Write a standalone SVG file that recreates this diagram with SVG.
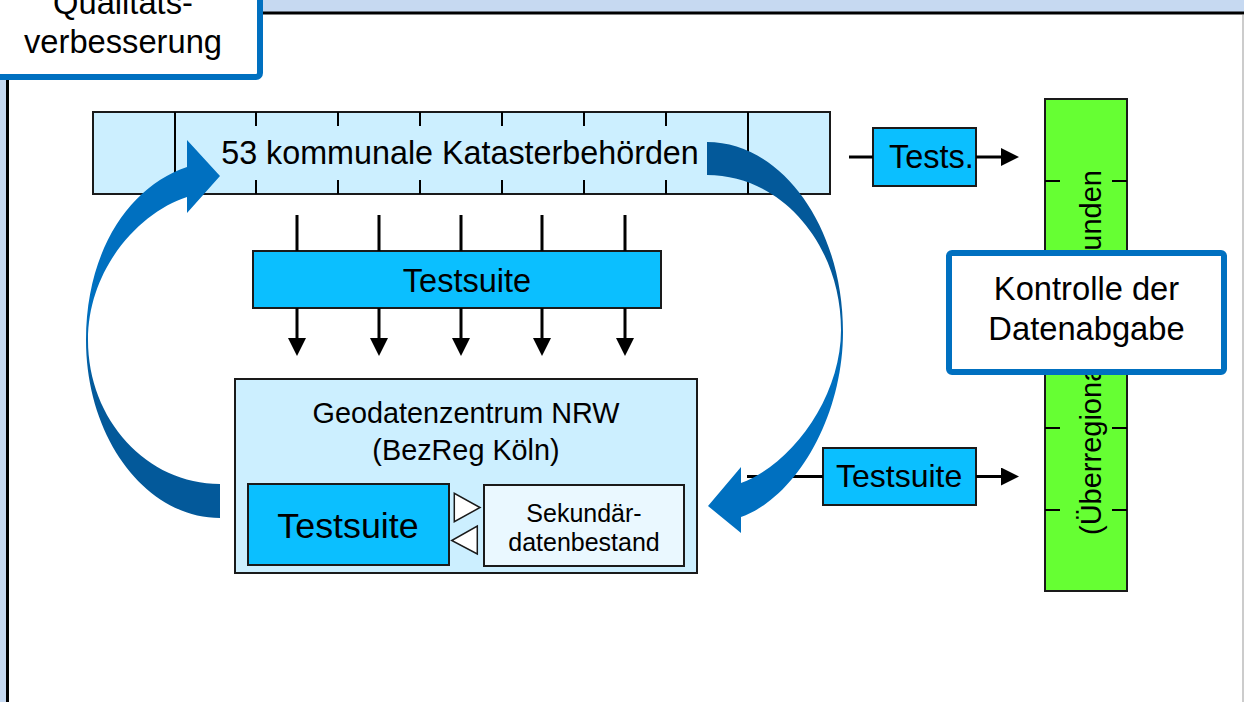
<svg xmlns="http://www.w3.org/2000/svg" width="1244" height="702" viewBox="0 0 1244 702">
<style>
text{font-family:"Liberation Sans",Arial,sans-serif;fill:#000}
.box{stroke:#1a1a1a;stroke-width:2}
.light{fill:#CCEFFF}
.cyan{fill:#0BBFFF}
.ln{stroke:#000;stroke-width:3;fill:none}
.tk{stroke:#000;stroke-width:2}
.callout{fill:#fff;stroke:#0070C0;stroke-width:6}
</style>
<defs>
<marker id="ah" markerUnits="userSpaceOnUse" markerWidth="18" markerHeight="18" viewBox="0 0 18 18" refX="1" refY="9" orient="auto">
<path d="M0,0 L18,9 L0,18 Z" fill="#000"/>
</marker>
<linearGradient id="gl" x1="0" y1="0" x2="0" y2="1">
<stop offset="0" stop-color="#0070C0"/>
<stop offset="0.45" stop-color="#0070C0"/>
<stop offset="0.65" stop-color="#03599A"/>
<stop offset="1" stop-color="#03599A"/>
</linearGradient>
<linearGradient id="gr" x1="0" y1="0" x2="0" y2="1">
<stop offset="0" stop-color="#03599A"/>
<stop offset="0.4" stop-color="#03599A"/>
<stop offset="0.6" stop-color="#0070C0"/>
<stop offset="1" stop-color="#0070C0"/>
</linearGradient>
</defs>

<g id="frame">
<rect x="0" y="0" width="1244" height="702" fill="#fff"/>
<rect x="0" y="0" width="1244" height="12" fill="#C6D9F1"/>
<rect x="0" y="0" width="6" height="702" fill="#C6D9F1"/>
<line x1="262" y1="13" x2="1244" y2="13" stroke="#000" stroke-width="3"/>
<line x1="7.5" y1="78" x2="7.5" y2="702" stroke="#000" stroke-width="3"/>
<line x1="1243" y1="15" x2="1243" y2="702" stroke="#999" stroke-width="1"/>
</g>

<g id="qualitaet">
<rect x="-10" y="-10" width="270" height="87" rx="4" class="callout"/>
<text x="123" y="14" font-size="32.7" text-anchor="middle">Qualitäts-</text>
<text x="123" y="53" font-size="32.7" text-anchor="middle">verbesserung</text>
</g>

<g id="kataster">
<rect x="93" y="112" width="737" height="82" class="box light"/>
<line x1="175" y1="112" x2="175" y2="194" class="tk"/>
<line x1="748" y1="112" x2="748" y2="194" class="tk"/>
<path class="tk" d="M256,112v14M338,112v14M420,112v14M502,112v14M584,112v14M666,112v14M256,194v-14M338,194v-14M420,194v-14M502,194v-14M584,194v-14M666,194v-14"/>
<text x="460" y="164" font-size="32.3" text-anchor="middle">53 kommunale Katasterbehörden</text>
</g>

<g id="testsuite-top">
<rect x="253" y="251" width="408" height="57" class="box cyan"/>
<text x="467" y="292" font-size="32.5" text-anchor="middle">Testsuite</text>
</g>

<g id="geodaten">
<rect x="235" y="379" width="462" height="194" class="box light"/>
<text x="466" y="423" font-size="28.8" text-anchor="middle">Geodatenzentrum NRW</text>
<text x="466" y="460" font-size="28.8" text-anchor="middle">(BezReg Köln)</text>
</g>

<g id="testsuite-inner">
<rect x="248" y="484" width="201" height="81" class="box cyan"/>
<text x="348" y="538" font-size="35.8" text-anchor="middle">Testsuite</text>
</g>

<g id="sekundaer">
<rect x="484" y="485" width="200" height="81" class="box" fill="#EAF8FF"/>
<text x="584" y="521.5" font-size="25" text-anchor="middle">Sekundär-</text>
<text x="584" y="551" font-size="25" text-anchor="middle">datenbestand</text>
</g>

<g id="tests-box">
<rect x="873" y="128" width="103" height="58" class="box cyan"/>
<text x="889" y="168" font-size="32.5">Tests.</text>
</g>

<g id="testsuite-right">
<rect x="823" y="448" width="153" height="57" class="box cyan"/>
<text x="836" y="487" font-size="32">Testsuite</text>
</g>

<g id="kunden">
<rect x="1045" y="99" width="82" height="492" class="box" fill="#66FF33"/>
<path class="tk" d="M1045,181h15M1127,181h-15M1045,263h15M1127,263h-15M1045,345h15M1127,345h-15M1045,428h15M1127,428h-15M1045,510h15M1127,510h-15"/>
<text transform="translate(1101,535) rotate(-90)" font-size="29"><tspan x="0">(Überregionale)</tspan> <tspan x="265">Kunden</tspan></text>
</g>

<g id="connectors">
<path class="ln" d="M297,215V251M379,215V251M461,215V251M542,215V251M625,215V251"/>
<line x1="297" y1="308" x2="297" y2="339" class="ln" marker-end="url(#ah)"/>
<line x1="379" y1="308" x2="379" y2="339" class="ln" marker-end="url(#ah)"/>
<line x1="461" y1="308" x2="461" y2="339" class="ln" marker-end="url(#ah)"/>
<line x1="542" y1="308" x2="542" y2="339" class="ln" marker-end="url(#ah)"/>
<line x1="625" y1="308" x2="625" y2="339" class="ln" marker-end="url(#ah)"/>
<line x1="849" y1="157" x2="873" y2="157" class="ln"/>
<line x1="976" y1="157" x2="1002" y2="157" class="ln" marker-end="url(#ah)"/>
<line x1="747" y1="476.5" x2="823" y2="476.5" class="ln"/>
<line x1="976" y1="476.5" x2="1002" y2="476.5" class="ln" marker-end="url(#ah)"/>
<polygon points="454.3,493.3 454.3,521.7 480,507.5" fill="#fff" stroke="#1a1a1a" stroke-width="1.5"/>
<polygon points="477.3,526 477.3,554 451.7,540.5" fill="#fff" stroke="#1a1a1a" stroke-width="1.5"/>
<path d="M220,518 C146,518 86,438 86,340 C86,250 130,186 187,167 L187,140 L220,176 L187,213 L187,197 C140,212 88,268 88,340 C88,420 147,484 220,484 Z" fill="url(#gl)"/>
<path d="M707,142 C782,142 843,227 843,332 C843,416 797,497 741,517 L741,533 L708,506 L741,467 L741,483 C791,465 841,398 841,330 C841,244 781,175 707,175 Z" fill="url(#gr)"/>
</g>

<g id="kontrolle">
<rect x="949" y="253" width="275" height="119" rx="3" class="callout"/>
<text x="1086.5" y="300" font-size="32.7" text-anchor="middle">Kontrolle der</text>
<text x="1086.5" y="340" font-size="32.7" text-anchor="middle">Datenabgabe</text>
</g>
</svg>
